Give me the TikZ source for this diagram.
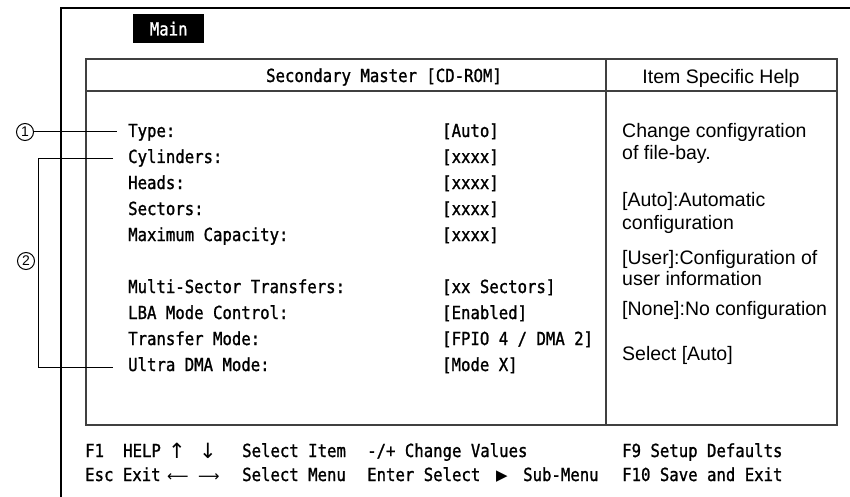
\documentclass[tikz,border=0pt]{standalone}
\usepackage{fontspec}
\newfontfamily\bios[FakeStretch=0.87,FakeBold=1.2]{DejaVu Sans Mono}
\newfontfamily\helpf{Liberation Sans}
\newfontfamily\symf{DejaVu Sans}
\begin{document}
\begin{tikzpicture}[x=1pt,y=-1pt,
  biostxt/.style={inner sep=0pt,anchor=base west,font=\bios\fontsize{18}{20}\selectfont},
  helptxt/.style={inner sep=0pt,anchor=base west,font=\helpf\fontsize{19.5}{22}\selectfont},
  arrowtxt/.style={inner sep=0pt,anchor=base west,font=\symf\fontsize{21}{22}\selectfont},
  frameline/.style={line width=1.8pt,black},
  boxline/.style={line width=1.3pt,black!75},
  leader/.style={line width=1pt,black},
  callout/.style={circle,draw,line width=1pt,minimum size=17pt,inner sep=0pt,
    font=\helpf\fontsize{14}{14}\selectfont}]
\useasboundingbox (0,0) rectangle (850,497);
% outer frame
\coordinate (ftl) at (61,8);
\draw[frameline] (61,497) -- (ftl) -- (850,8);
% Main tab
\node[fill=black,minimum width=71pt,minimum height=29pt,inner sep=0pt,anchor=north west,
  font=\bios\fontsize{18}{20}\selectfont,text=white] (main) at (133,14) {Main};
% inner box
\draw[boxline] (86,59) rectangle (837,425);
\draw[boxline] (86,91) -- (837,91);
\draw[boxline] (606,59) -- (606,425);
% headers
\node[biostxt,anchor=base] (hdr) at (384,82) {Secondary Master [CD-ROM]};
\node[helptxt,anchor=base] (hhelp) at (721,84) {Item Specific Help};
% items
\foreach \n/\y/\lab/\val in {
  type/132/Type:/[Auto],
  cyl/158/Cylinders:/[xxxx],
  heads/184/Heads:/[xxxx],
  sect/210/Sectors:/[xxxx],
  maxc/236/Maximum Capacity:/[xxxx],
  multi/288/Multi-Sector Transfers:/[xx Sectors],
  lba/314/LBA Mode Control:/[Enabled],
  tmode/340/Transfer Mode:/{[FPIO 4 / DMA 2]},
  udma/366/Ultra DMA Mode:/[Mode X]}{
  \node[biostxt] (\n) at (128,\y+5) {\lab};
  \node[biostxt] (\n v) at (442,\y+5) {\val};
}
% help text
\node[helptxt] (h1) at (622,138) {Change configyration};
\node[helptxt] (h2) at (622,160) {of file-bay.};
\node[helptxt] (h3) at (622,206) {[Auto]:Automatic};
\node[helptxt] (h4) at (622,229) {configuration};
\node[helptxt] (h5) at (622,264) {[User]:Configuration of};
\node[helptxt] (h6) at (622,285) {user information};
\node[helptxt] (h7) at (622,315) {[None]:No configuration};
\node[helptxt] (h8) at (622,360) {Select [Auto]};
% footer line 1
\node[biostxt] (f1) at (85,457) {F1};
\node[biostxt] (f1b) at (123,457) {HELP};
\node[arrowtxt] (f1c) at (168,458) {↑};
\node[arrowtxt] (f1d) at (199,458) {↓};
\node[biostxt] (f1e) at (242,457) {Select Item};
\node[biostxt] (f1f) at (367,457) {-/+ Change Values};
\node[biostxt] (f1g) at (622,457) {F9 Setup Defaults};
% footer line 2
\node[biostxt] (f2) at (85,481) {Esc Exit};
\node[arrowtxt,font=\symf\fontsize{15}{18}\selectfont] (f2c) at (167,481) {⟵};
\node[arrowtxt,font=\symf\fontsize{15}{18}\selectfont] (f2d) at (198,481) {⟶};
\node[biostxt] (f2e) at (242,481) {Select Menu};
\node[biostxt] (f2f) at (367,481) {Enter Select};
\node[inner sep=0pt,anchor=base west,font=\symf\fontsize{15}{16}\selectfont] (f2g) at (496,480) {▶};
\node[biostxt] (f2h) at (523,481) {Sub-Menu};
\node[biostxt] (f2i) at (622,481) {F10 Save and Exit};
% callouts
\node[callout] (c1) at (25,132) {1};
\node[callout] (c2) at (26,261) {2};
\coordinate (e1) at (117,132);
\coordinate (e2a) at (113,159);
\coordinate (e2b) at (113,367);
\coordinate (k2a) at (38,159);
\coordinate (k2b) at (38,367);
\draw[leader] (c1.east) -- (e1);
\draw[leader] (e2a) -- (k2a) -- (k2b) -- (e2b);
\end{tikzpicture}
\end{document}
